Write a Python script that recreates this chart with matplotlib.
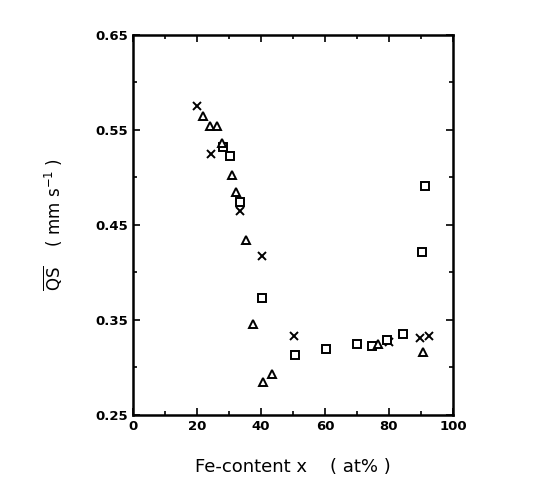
import matplotlib

matplotlib.use("Agg")

import matplotlib.pyplot as plt
from matplotlib.ticker import MultipleLocator

# Fe-content (at%) and quadrupole splitting (mm/s)
cross_x = [20.0, 24.4, 33.4, 40.3, 50.3, 80.0, 84.4, 89.7, 92.5]
cross_y = [0.575, 0.525, 0.465, 0.417, 0.333, 0.327, 0.335, 0.331, 0.333]

square_x = [28.1, 30.3, 33.4, 40.3, 50.6, 60.3, 70.0, 74.7, 79.4, 84.4, 91.3, 90.3]
square_y = [0.532, 0.522, 0.474, 0.373, 0.313, 0.319, 0.324, 0.322, 0.329, 0.335, 0.491, 0.421]

tri_x = [21.9, 24.1, 26.3, 27.8, 30.9, 32.2, 35.3, 37.5, 40.6, 43.4, 76.6, 90.6]
tri_y = [0.565, 0.554, 0.554, 0.536, 0.502, 0.485, 0.434, 0.346, 0.285, 0.293, 0.324, 0.316]

x_ticks = [0, 20, 40, 60, 80, 100]
y_ticks = [0.25, 0.35, 0.45, 0.55, 0.65]

fig = plt.figure(figsize=(5.38, 4.92), dpi=100)
ax = fig.add_axes([0.247, 0.157, 0.595, 0.772])

ax.plot(cross_x, cross_y, linestyle="none", marker="x", markersize=5.5,
        markeredgewidth=1.4, color="black")
ax.plot(square_x, square_y, linestyle="none", marker="s", markersize=5.5,
        markerfacecolor="white", markeredgewidth=1.4, markeredgecolor="black")
ax.plot(tri_x, tri_y, linestyle="none", marker="^", markersize=6,
        markerfacecolor="white", markeredgewidth=1.4, markeredgecolor="black")

ax.set_xlim(0, 100)
ax.set_ylim(0.25, 0.65)
ax.set_xticks(x_ticks)
ax.set_yticks(y_ticks)
ax.set_yticklabels([f"{v:.2f}" for v in y_ticks])
ax.xaxis.set_minor_locator(MultipleLocator(10))
ax.yaxis.set_minor_locator(MultipleLocator(0.05))
ax.tick_params(which="both", direction="in", top=True, right=True, width=1.2,
               labelsize=9.5)
ax.tick_params(which="major", length=5)
ax.tick_params(which="minor", length=3)
for label in ax.get_xticklabels() + ax.get_yticklabels():
    label.set_fontweight("bold")

for spine in ax.spines.values():
    spine.set_linewidth(1.8)

ax.set_xlabel("Fe-content x    ( at% )", fontsize=13, labelpad=18)
ax.set_ylabel(r"$\overline{\mathrm{QS}}$    ( mm s$^{-1}$ )", fontsize=12, labelpad=22)

fig.savefig("out.png", dpi=100)
plt.close(fig)
